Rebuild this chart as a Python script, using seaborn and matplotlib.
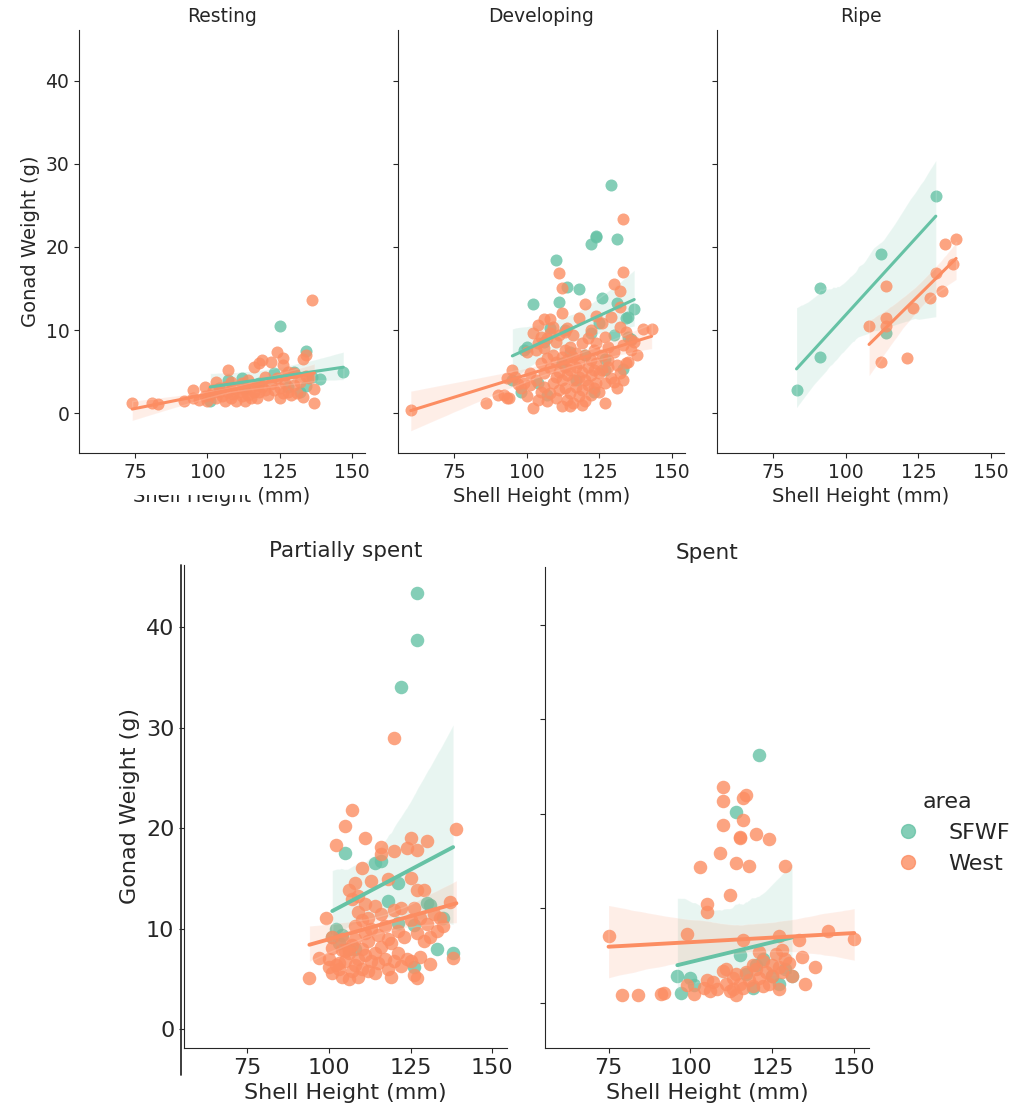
import numpy as np
import pandas as pd
import matplotlib
matplotlib.use('Agg')
import matplotlib.pyplot as plt
from matplotlib.lines import Line2D
from matplotlib.patches import Rectangle
import seaborn as sns

areaNames = ['SFWF', 'West']
stageNames = ['Resting', 'Developing', 'Ripe', 'Partially spent', 'Spent']
palette = {'SFWF': '#66c2a5', 'West': '#fc8d62'}

# ---- Resting ----
restingSfwfX = [101, 104, 107, 112, 113, 118, 123, 125, 128, 130, 132, 134, 134, 136, 139, 147]
restingSfwfY = [1.4, 3.0, 4.0, 4.2, 3.0, 3.6, 4.8, 10.5, 3.2, 4.9, 2.6, 7.5, 3.3, 4.3, 4.1, 4.9]
restingWestX = [74, 81, 83, 92, 95, 95, 97, 99, 99, 100, 101, 102, 103, 103, 104, 105, 106, 106,
                107, 107, 108, 108, 109, 110, 110, 111, 112, 112, 113, 113, 114, 114, 115, 115,
                116, 116, 117, 117, 118, 118, 119, 119, 120, 120, 121, 122, 122, 123, 124, 124,
                125, 125, 126, 126, 126, 127, 127, 128, 128, 129, 130, 130, 131, 132, 133, 133,
                134, 134, 136, 137, 137, 135]
restingWestY = [1.2, 1.2, 1.1, 1.4, 2.8, 1.8, 1.6, 3.2, 2.0, 1.5, 2.2, 2.8, 3.8, 1.8, 2.5, 2.0, 3.2, 1.5,
                5.2, 2.6, 3.8, 1.8, 2.3, 3.0, 1.4, 2.6, 2.0, 3.6, 1.5, 2.8, 2.2, 4.0, 3.0, 1.8,
                5.5, 2.6, 3.4, 1.8, 2.5, 6.0, 6.4, 3.2, 2.8, 4.4, 2.2, 3.5, 6.2, 2.8, 7.3, 4.2,
                1.8, 3.0, 6.6, 5.8, 2.4, 3.6, 4.6, 2.6, 5.0, 2.2, 3.4, 4.8, 2.4, 3.8, 6.5, 1.9,
                7.0, 4.5, 13.6, 2.9, 1.2, 4.2]

# ---- Developing ----
developingSfwfX = [95, 98, 99, 100, 102, 104, 106, 107, 108, 110, 111, 112, 113, 114, 115, 117, 118,
                   120, 122, 122, 123, 124, 124, 125, 126, 127, 127, 129, 130, 131, 131, 133, 134,
                   135, 135, 137, 136]
developingSfwfY = [4.0, 2.6, 7.6, 8.0, 13.1, 3.6, 8.6, 2.2, 10.2, 18.4, 13.4, 6.0, 10.0, 15.2, 7.4, 4.0,
                   14.9, 7.0, 9.6, 20.4, 2.6, 21.3, 21.2, 10.8, 13.8, 6.5, 5.2, 27.5, 9.4, 21.0, 13.3,
                   5.3, 11.4, 11.6, 9.1, 12.5, 8.9]
developingWestX = [60, 86, 90, 92, 93, 94, 93, 95, 96, 97, 98, 99, 100, 101, 102, 102, 103, 103, 104,
                   104, 105, 105, 106, 106, 106, 107, 107, 108, 108, 108, 108, 109, 109, 110, 110,
                   110, 111, 111, 111, 111, 112, 112, 112, 112, 112, 113, 113, 113, 114, 114, 114,
                   115, 115, 115, 116, 116, 116, 117, 117, 117, 118, 118, 118, 118, 119, 119, 119,
                   120, 120, 120, 120, 121, 121, 121, 122, 122, 122, 123, 123, 123, 124, 124, 124,
                   125, 125, 126, 126, 127, 127, 127, 128, 128, 129, 130, 130, 130, 131, 131, 132,
                   132, 132, 132, 133, 133, 133, 133, 134, 134, 135, 136, 136, 137, 138, 140, 143,
                   100, 101, 104, 105, 107, 109, 110, 114, 116, 122, 126, 129, 128, 124, 119, 115,
                   113, 106]
developingWestY = [0.4, 1.2, 2.2, 2.2, 1.8, 1.8, 4.2, 5.2, 4.4, 3.5, 3.0, 3.6, 2.0, 4.8, 0.6, 9.6, 7.6,
                   4.0, 1.6, 8.4, 6.0, 2.6, 11.3, 4.8, 3.2, 9.0, 1.4, 11.3, 9.6, 5.4, 2.4, 7.0, 3.6,
                   6.2, 4.4, 1.8, 16.9, 9.4, 5.0, 2.8, 15.0, 12.0, 0.8, 6.8, 4.0, 7.6, 5.6, 3.0, 6.4,
                   4.6, 1.6, 8.0, 5.2, 2.4, 6.8, 4.0, 1.2, 7.2, 5.6, 3.2, 11.5, 6.0, 4.4, 2.0, 8.4,
                   5.0, 2.8, 13.1, 7.0, 4.0, 1.4, 9.0, 5.6, 3.4, 6.4, 4.6, 2.2, 7.6, 5.2, 3.0, 11.7,
                   8.4, 6.0, 4.8, 2.6, 7.0, 5.2, 9.2, 3.6, 1.2, 8.0, 5.6, 4.2, 15.5, 7.4, 3.8, 5.8,
                   3.0, 14.7, 12.8, 10.4, 4.8, 23.4, 17.0, 8.2, 4.0, 9.8, 6.0, 6.2, 8.8, 7.6, 8.6,
                   7.0, 10.1, 10.1, 7.4, 3.4, 10.6, 9.2, 6.6, 10.4, 8.6, 10.2, 9.4, 10.0, 10.8, 11.6,
                   6.4, 3.6, 1.0, 0.8, 9.8, 7.8]

# ---- Ripe ----
ripeSfwfX = [83, 91, 91, 112, 114, 131]
ripeSfwfY = [2.8, 15.0, 6.7, 19.2, 9.6, 26.1]
ripeWestX = [108, 112, 114, 114, 114, 121, 123, 129, 131, 133, 134, 137, 138]
ripeWestY = [10.5, 6.1, 15.3, 11.5, 10.5, 6.6, 12.6, 13.9, 16.8, 14.7, 20.4, 17.9, 21.0]

# ---- Partially spent ----
partialSfwfX = [101, 102, 103, 104, 105, 106, 108, 114, 116, 118, 121, 121, 122, 126, 126, 127, 127,
                130, 131, 133, 135, 138]
partialSfwfY = [9.2, 10.0, 8.6, 9.4, 17.5, 8.0, 8.0, 16.5, 16.7, 12.7, 10.5, 14.5, 34.1, 10.3, 6.2,
                43.4, 38.7, 12.5, 12.3, 8.0, 11.0, 7.6]
partialWestX = [94, 97, 99, 100, 100, 101, 101, 101, 102, 102, 103, 103, 104, 104, 104, 105, 105, 105,
                106, 106, 106, 106, 107, 107, 107, 107, 108, 108, 108, 108, 109, 109, 109, 109,
                110, 110, 110, 110, 111, 111, 111, 111, 112, 112, 112, 113, 113, 113, 114, 114,
                114, 115, 115, 116, 116, 116, 116, 117, 117, 118, 118, 118, 119, 119, 120, 120,
                120, 120, 121, 121, 122, 122, 123, 124, 124, 125, 125, 125, 125, 126, 126, 127,
                127, 127, 127, 128, 128, 129, 129, 130, 130, 131, 131, 132, 133, 134, 135, 138,
                139, 137]
partialWestY = [5.1, 7.1, 11.0, 7.0, 6.2, 8.1, 9.2, 5.6, 6.4, 18.3, 6.0, 6.6, 7.9, 5.2, 9.0, 6.8,
                20.2, 7.8, 5.0, 7.6, 13.8, 8.0, 21.8, 12.9, 8.4, 5.8, 14.5, 6.4, 10.2, 9.0, 13.2,
                7.0, 5.2, 11.6, 16.0, 8.0, 6.0, 10.8, 19.0, 12.4, 7.4, 9.6, 5.8, 8.8, 11.0, 14.7,
                6.8, 10.0, 7.6, 12.2, 5.6, 9.4, 6.6, 18.1, 17.4, 8.2, 11.4, 7.0, 10.2, 14.9, 6.0,
                9.0, 5.2, 8.6, 17.7, 29.0, 11.8, 6.8, 9.8, 7.6, 6.3, 12.0, 9.2, 18.0, 7.0, 19.0,
                15.0, 10.8, 6.8, 5.4, 12.0, 17.8, 13.8, 5.1, 9.6, 11.0, 7.2, 13.8, 8.8, 18.7, 10.4,
                9.2, 6.5, 11.4, 9.8, 11.0, 10.2, 7.1, 19.9, 12.6]

# ---- Spent ----
spentSfwfX = [96, 97, 101, 100, 114, 115, 117, 120, 121, 122, 125, 127, 129, 131, 119]
spentSfwfY = [2.8, 1.0, 1.9, 2.6, 20.2, 5.0, 3.0, 4.0, 26.2, 4.6, 2.8, 2.0, 3.6, 2.8, 1.6]
spentWestX = [75, 79, 84, 91, 92, 99, 99, 101, 103, 104, 105, 105, 105, 106, 107, 108, 109, 110, 110,
              110, 110, 111, 111, 112, 112, 113, 113, 114, 114, 114, 115, 115, 115, 116, 116, 116,
              116, 117, 117, 118, 118, 119, 119, 120, 120, 121, 121, 122, 122, 123, 124, 124, 125,
              125, 126, 127, 127, 127, 128, 128, 129, 129, 130, 131, 133, 134, 135, 138, 142, 150]
spentWestY = [7.0, 0.8, 0.8, 0.9, 1.0, 7.3, 1.9, 0.9, 14.4, 1.6, 10.4, 9.6, 2.4, 1.2, 2.2, 1.4, 15.8,
              22.8, 21.3, 18.8, 3.4, 2.0, 3.6, 11.4, 1.2, 2.6, 1.4, 14.8, 3.0, 0.8, 17.5, 17.4, 2.0,
              21.7, 19.3, 6.6, 1.6, 22.0, 3.2, 14.5, 2.4, 4.0, 1.8, 17.8, 3.6, 2.6, 5.4, 4.4, 1.8,
              3.2, 17.3, 2.0, 4.0, 2.8, 5.2, 7.0, 3.8, 1.4, 5.6, 3.2, 14.5, 4.6, 4.2, 2.8, 6.6, 4.8,
              2.0, 3.8, 7.6, 6.7]

xTicks = [75, 100, 125, 150]
yTicks = [0, 10, 20, 30, 40]


def buildFrame():
    parts = [
        ('Resting', 'SFWF', restingSfwfX, restingSfwfY),
        ('Resting', 'West', restingWestX, restingWestY),
        ('Developing', 'SFWF', developingSfwfX, developingSfwfY),
        ('Developing', 'West', developingWestX, developingWestY),
        ('Ripe', 'SFWF', ripeSfwfX, ripeSfwfY),
        ('Ripe', 'West', ripeWestX, ripeWestY),
        ('Partially spent', 'SFWF', partialSfwfX, partialSfwfY),
        ('Partially spent', 'West', partialWestX, partialWestY),
        ('Spent', 'SFWF', spentSfwfX, spentSfwfY),
        ('Spent', 'West', spentWestX, spentWestY),
    ]
    frames = []
    for stage, area, xs, ys in parts:
        frames.append(pd.DataFrame({'stage': stage, 'area': area,
                                    'shell_height': xs, 'gonad_weight': ys}))
    return pd.concat(frames, ignore_index=True)


df = buildFrame()

sns.set_style('ticks')
plt.rcParams['font.family'] = ['DejaVu Sans']

W, H = 1022, 1111
fig = plt.figure(figsize=(W / 100, H / 100), dpi=100)


def addAx(left, right, top, bottom):
    return fig.add_axes([left / W, 1 - bottom / H, (right - left) / W, (bottom - top) / H])


def drawPanel(ax, stage, ylim, tickSize, labelSize, titleSize, markerSize, lineWidth, showY):
    sub = df[df['stage'] == stage]
    for area in areaNames:
        d = sub[sub['area'] == area]
        sns.regplot(data=d, x='shell_height', y='gonad_weight', ax=ax, color=palette[area],
                    scatter_kws={'s': markerSize, 'linewidths': 0}, line_kws={'lw': lineWidth},
                    truncate=True, seed=0)
    ax.set_xlim(55.6, 154.5)
    ax.set_ylim(*ylim)
    ax.set_xticks(xTicks)
    ax.set_yticks(yTicks)
    ax.tick_params(labelsize=tickSize)
    ax.set_title(stage, fontsize=titleSize)
    ax.set_xlabel('Shell Height (mm)', fontsize=labelSize)
    if showY:
        ax.set_ylabel('Gonad Weight (g)', fontsize=labelSize)
    else:
        ax.set_ylabel('')
        ax.set_yticklabels([])
    sns.despine(ax=ax)


topLim = (-4.8, 46.1)
axRest = addAx(79, 365, 30, 453)
axDev = addAx(398, 685, 30, 453)
axRipe = addAx(717, 1004, 30, 453)
drawPanel(axRest, 'Resting', topLim, 13.5, 14, 13.5, 75, 2.2, True)
drawPanel(axDev, 'Developing', topLim, 13.5, 14, 13.5, 75, 2.2, False)
drawPanel(axRipe, 'Ripe', topLim, 13.5, 14, 13.5, 75, 2.2, False)

axPart = addAx(184, 507, 565, 1048)
axSpent = addAx(545, 869, 567, 1048)
drawPanel(axPart, 'Partially spent', (-1.9, 46.2), 16, 16, 15.5, 95, 2.8, True)
drawPanel(axSpent, 'Spent', topLim, 16, 16, 15.5, 95, 2.8, False)

# second spine line left of the Partially spent panel, as in the pasted figure
fig.add_artist(Line2D([181 / W, 181 / W], [1 - 565 / H, 1 - 1075 / H],
                      transform=fig.transFigure, color='#262626', lw=1.25))
# top of the Resting x label is hidden under the lower figure
fig.add_artist(Rectangle((0, 1 - 495 / H), 256 / W, 12 / H, transform=fig.transFigure,
                         facecolor='white', edgecolor='none', zorder=10))

handles = [Line2D([], [], marker='o', ls='', color=palette[a], alpha=0.8, markersize=10)
           for a in areaNames]
fig.legend(handles, areaNames, title='area', loc='center left',
           bbox_to_anchor=(877 / W, 1 - 833 / H), frameon=False,
           fontsize=16, title_fontsize=16, handletextpad=0.8, borderaxespad=0)

plt.savefig('out.png', dpi=100)
plt.close()
